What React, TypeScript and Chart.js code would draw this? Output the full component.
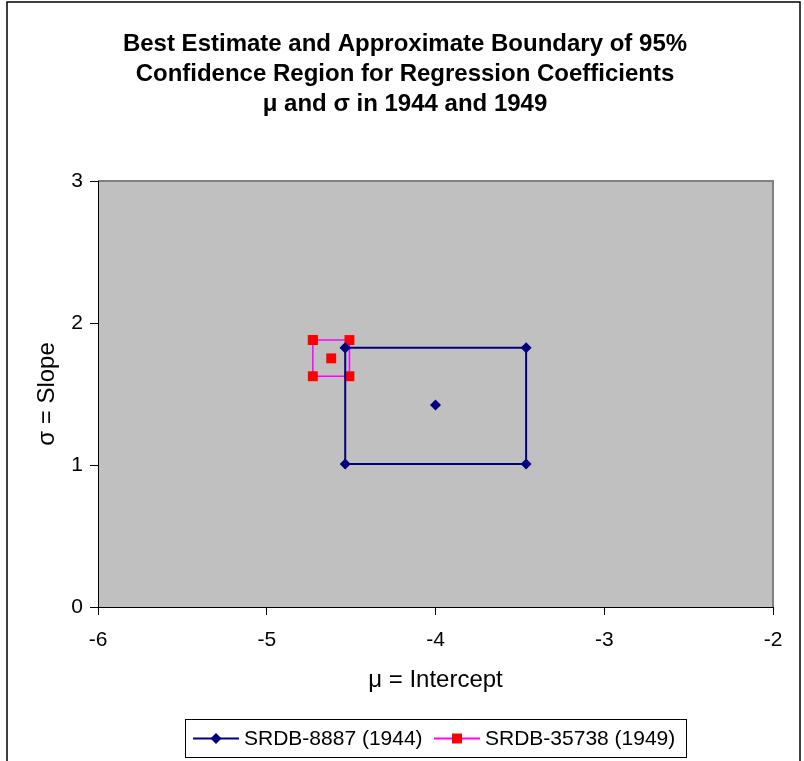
import React, { useEffect, useRef } from "react";
import { Chart, registerables } from "chart.js";

Chart.register(...registerables);

const TITLE_LINES = [
  "Best Estimate and Approximate Boundary of 95%",
  "Confidence Region for Regression Coefficients",
  "μ and σ in 1944 and 1949",
];
const X_TITLE = "μ = Intercept";
const Y_TITLE = "σ = Slope";

const X_TICKS = [-6, -5, -4, -3, -2];
const Y_TICKS = [0, 1, 2, 3];

// SRDB-8887 (1944): rectangle boundary, gap, then best estimate
const S1_LABEL = "SRDB-8887 (1944)";
const S1_X = [-4.535, -3.463, -3.463, -4.535, -4.535, -4.0, -4.0];
const S1_Y = [1.826, 1.826, 1.007, 1.007, 1.826, null, 1.423];

// SRDB-35738 (1949)
const S2_LABEL = "SRDB-35738 (1949)";
const S2_X = [-4.727, -4.51, -4.51, -4.727, -4.727, -4.618, -4.618];
const S2_Y = [1.88, 1.88, 1.625, 1.625, 1.88, null, 1.751];

const FONT = "'Liberation Sans', Arial, sans-serif";

const toPoints = (xs: number[], ys: (number | null)[]) =>
  xs.map((x, i) => ({ x, y: ys[i] }));

const plotBg = {
  id: "plotBg",
  beforeDraw(chart: any) {
    const { ctx, chartArea: a, width, height } = chart;
    ctx.save();
    ctx.fillStyle = "#ffffff";
    ctx.fillRect(0, 0, width, height);
    ctx.fillStyle = "#C0C0C0";
    ctx.fillRect(a.left, a.top, a.right - a.left, a.bottom - a.top);
    ctx.strokeStyle = "#808080";
    ctx.lineWidth = 2;
    ctx.beginPath();
    ctx.moveTo(a.left, a.top);
    ctx.lineTo(a.right, a.top);
    ctx.lineTo(a.right, a.bottom);
    ctx.stroke();
    // outer chart border
    ctx.strokeStyle = "#000000";
    ctx.lineWidth = 1.5;
    ctx.strokeRect(7, 2, 793, 790);
    ctx.restore();
  },
};

const customLegend = {
  id: "customLegend",
  afterDraw(chart: any) {
    const { ctx } = chart;
    const boxX = 185.5, boxY = 719.5, boxW = 501, boxH = 38;
    const cy = boxY + boxH / 2;
    ctx.save();
    ctx.strokeStyle = "#000000";
    ctx.lineWidth = 1;
    ctx.strokeRect(boxX, boxY, boxW, boxH);
    ctx.font = `21px ${FONT}`;
    ctx.textBaseline = "middle";
    ctx.fillStyle = "#000000";
    const items = [
      { x: 193, ds: chart.data.datasets[0], shape: "diamond" },
      { x: 434, ds: chart.data.datasets[1], shape: "square" },
    ];
    items.forEach((it) => {
      const ds = it.ds;
      ctx.strokeStyle = ds.borderColor;
      ctx.lineWidth = 2;
      ctx.beginPath();
      ctx.moveTo(it.x, cy);
      ctx.lineTo(it.x + 46, cy);
      ctx.stroke();
      const mx = it.x + 23;
      ctx.fillStyle = ds.pointBackgroundColor;
      ctx.beginPath();
      if (it.shape === "diamond") {
        ctx.moveTo(mx - 5.5, cy);
        ctx.lineTo(mx, cy - 5.5);
        ctx.lineTo(mx + 5.5, cy);
        ctx.lineTo(mx, cy + 5.5);
        ctx.closePath();
      } else {
        ctx.rect(mx - 5, cy - 5, 10, 10);
      }
      ctx.fill();
      ctx.fillStyle = "#000000";
      ctx.fillText(ds.label, it.x + 51, cy + 1);
    });
    ctx.restore();
  },
};

export default function App() {
  const ref = useRef<HTMLCanvasElement | null>(null);

  useEffect(() => {
    document.body.style.margin = "0";
    if (!ref.current) return;
    const chart = new Chart(ref.current, {
      type: "line",
      data: {
        datasets: [
          {
            label: S1_LABEL,
            data: toPoints(S1_X, S1_Y) as any,
            borderColor: "#000080",
            backgroundColor: "#000080",
            pointBackgroundColor: "#000080",
            pointBorderColor: "#000080",
            pointStyle: "rectRot",
            pointRadius: 5.5,
            pointBorderWidth: 0,
            borderWidth: 2,
            spanGaps: false,
            tension: 0,
          },
          {
            label: S2_LABEL,
            data: toPoints(S2_X, S2_Y) as any,
            borderColor: "#FF00FF",
            backgroundColor: "#FF0000",
            pointBackgroundColor: "#FF0000",
            pointBorderColor: "#FF0000",
            pointStyle: "rect",
            pointRadius: 7,
            pointBorderWidth: 0,
            borderWidth: 1.5,
            spanGaps: false,
            tension: 0,
          },
        ],
      },
      options: {
        animation: false,
        responsive: false,
        maintainAspectRatio: false,
        layout: { padding: { left: 37, right: 31, top: 0, bottom: 64 } },
        plugins: {
          legend: { display: false },
          tooltip: { enabled: false },
          title: {
            display: true,
            text: TITLE_LINES,
            color: "#000000",
            font: { family: FONT, size: 24, weight: "bold", lineHeight: 1.25 },
            padding: { top: 29, bottom: 62 },
          },
        },
        scales: {
          x: {
            type: "linear",
            min: X_TICKS[0],
            max: X_TICKS[X_TICKS.length - 1],
            afterBuildTicks: (s: any) => {
              s.ticks = X_TICKS.map((v) => ({ value: v }));
            },
            afterFit: (s: any) => {
              s.height = 90;
            },
            ticks: {
              color: "#000000",
              font: { family: FONT, size: 21 },
              padding: 13,
              maxRotation: 0,
            },
            grid: {
              display: true,
              drawOnChartArea: false,
              drawTicks: true,
              tickLength: 8,
              color: "#000000",
            },
            border: { display: true, color: "#000000", width: 1 },
            title: {
              display: true,
              text: X_TITLE,
              color: "#000000",
              font: { family: FONT, size: 24 },
              padding: { top: 0, bottom: 2 },
            },
          },
          y: {
            type: "linear",
            min: Y_TICKS[0],
            max: Y_TICKS[Y_TICKS.length - 1],
            afterBuildTicks: (s: any) => {
              s.ticks = Y_TICKS.map((v) => ({ value: v }));
            },
            afterFit: (s: any) => {
              s.width = 61;
            },
            ticks: {
              color: "#000000",
              font: { family: FONT, size: 21 },
              padding: 7,
            },
            grid: {
              display: true,
              drawOnChartArea: false,
              drawTicks: true,
              tickLength: 8,
              color: "#000000",
            },
            border: { display: true, color: "#000000", width: 1 },
            title: {
              display: true,
              text: Y_TITLE,
              color: "#000000",
              font: { family: FONT, size: 24, lineHeight: "20px" },
              padding: { top: 0, bottom: 0 },
            },
          },
        },
      },
      plugins: [plotBg, customLegend],
    });
    return () => chart.destroy();
  }, []);

  return (
    <div style={{ width: 804, height: 761, overflow: "hidden" }}>
      <canvas ref={ref} width={804} height={761} style={{ display: "block" }} />
    </div>
  );
}
